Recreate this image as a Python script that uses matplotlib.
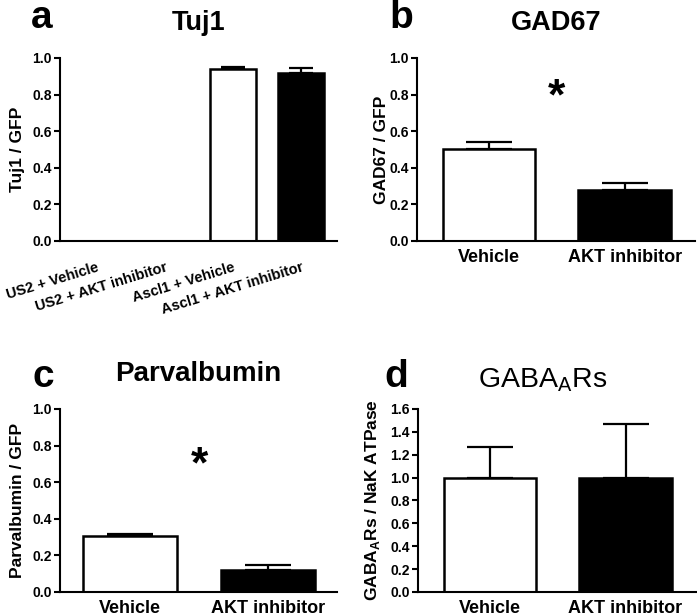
import matplotlib
matplotlib.use('Agg')
import matplotlib.pyplot as plt

plt.rcParams['font.family'] = ['Liberation Sans', 'DejaVu Sans']
plt.rcParams['mathtext.fontset'] = 'custom'
plt.rcParams['mathtext.rm'] = 'Liberation Sans'
plt.rcParams['mathtext.bf'] = 'Liberation Sans:bold'

# Data
tuj1_labels = ['US2 + Vehicle', 'US2 + AKT inhibitor', 'Ascl1 + Vehicle', 'Ascl1 + AKT inhibitor']
tuj1_means = [0, 0, 0.94, 0.92]
tuj1_errs = [0, 0, 0.01, 0.025]

two_labels = ['Vehicle', 'AKT inhibitor']
gad67_means = [0.50, 0.28]
gad67_errs = [0.04, 0.035]
parv_means = [0.305, 0.12]
parv_errs = [0.01, 0.025]
gaba_means = [1.0, 1.0]
gaba_errs = [0.27, 0.47]

bar_colors = ['white', 'black']

fig = plt.figure(figsize=(6.97, 6.16), dpi=100)

ax_a = fig.add_axes([0.0861, 0.6088, 0.3974, 0.2971])
ax_b = fig.add_axes([0.5983, 0.6088, 0.3990, 0.2971])
ax_c = fig.add_axes([0.0861, 0.0390, 0.3974, 0.2971])
ax_d = fig.add_axes([0.5997, 0.0390, 0.3990, 0.2971])


def style_axes(ax):
    for s in ['top', 'right']:
        ax.spines[s].set_visible(False)
    for s in ['left', 'bottom']:
        ax.spines[s].set_linewidth(1.5)
    ax.tick_params(axis='y', width=1.5, length=4, labelsize=10, pad=2)
    ax.tick_params(axis='x', length=0, pad=6)
    for lab in ax.get_yticklabels():
        lab.set_fontweight('bold')


def draw_bars(ax, means, errs, colors, width, capsize):
    x = list(range(len(means)))
    for i in x:
        if means[i] == 0:
            continue
        ax.bar(i, means[i], width=width, color=colors[i], edgecolor='black',
               linewidth=1.8, zorder=2)
        ax.errorbar(i, means[i], yerr=[[0], [errs[i]]], fmt='none', ecolor='black',
                    elinewidth=1.6, capsize=capsize, capthick=1.6, zorder=1)
    return x


ticks_1 = [0, 0.2, 0.4, 0.6, 0.8, 1.0]
ticks_16 = [0, 0.2, 0.4, 0.6, 0.8, 1.0, 1.2, 1.4, 1.6]

# Panel a
xa = draw_bars(ax_a, tuj1_means, tuj1_errs, ['white', 'white', 'white', 'black'], 0.68, 8.3)
ax_a.set_xlim(-0.54, 3.53)
ax_a.set_ylim(0, 1.0)
ax_a.set_yticks(ticks_1)
ax_a.set_yticklabels([f'{t:.1f}' for t in ticks_1])
ax_a.set_xticks(xa)
ax_a.set_xticklabels(tuj1_labels, rotation=17, ha='right', va='top', rotation_mode='anchor',
                     fontsize=10.5, fontweight='bold')
ax_a.set_ylabel('Tuj1 / GFP', fontsize=12.5, fontweight='bold')
ax_a.yaxis.set_label_coords(-0.126, 0.5)
ax_a.set_title('Tuj1', fontsize=19.5, fontweight='bold', pad=20)
style_axes(ax_a)
ax_a.tick_params(axis='x', pad=14)

# Panel b
xb = draw_bars(ax_b, gad67_means, gad67_errs, bar_colors, 0.68, 16.5)
ax_b.set_xlim(-0.53, 1.52)
ax_b.set_ylim(0, 1.0)
ax_b.set_yticks(ticks_1)
ax_b.set_yticklabels([f'{t:.1f}' for t in ticks_1])
ax_b.set_xticks(xb)
ax_b.set_xticklabels(two_labels, fontsize=13, fontweight='bold')
ax_b.set_ylabel('GAD67 / GFP', fontsize=12.5, fontweight='bold')
ax_b.yaxis.set_label_coords(-0.100, 0.5)
ax_b.set_title('GAD67', fontsize=19.5, fontweight='bold', pad=20)
ax_b.text(0.5, 0.72, '*', ha='center', va='baseline', fontsize=32, fontweight='bold')
style_axes(ax_b)

# Panel c
xc = draw_bars(ax_c, parv_means, parv_errs, bar_colors, 0.68, 16.5)
ax_c.set_xlim(-0.51, 1.5)
ax_c.set_ylim(0, 1.0)
ax_c.set_yticks(ticks_1)
ax_c.set_yticklabels([f'{t:.1f}' for t in ticks_1])
ax_c.set_xticks(xc)
ax_c.set_xticklabels(two_labels, fontsize=13, fontweight='bold')
ax_c.set_ylabel('Parvalbumin / GFP', fontsize=12.5, fontweight='bold')
ax_c.yaxis.set_label_coords(-0.126, 0.5)
ax_c.set_title('Parvalbumin', fontsize=20, fontweight='bold', pad=20)
ax_c.text(0.5, 0.625, '*', ha='center', va='baseline', fontsize=32, fontweight='bold')
style_axes(ax_c)

# Panel d
xd = draw_bars(ax_d, gaba_means, gaba_errs, bar_colors, 0.68, 16.5)
ax_d.set_xlim(-0.53, 1.52)
ax_d.set_ylim(0, 1.6)
ax_d.set_yticks(ticks_16)
ax_d.set_yticklabels([f'{t:.1f}' for t in ticks_16])
ax_d.set_xticks(xd)
ax_d.set_xticklabels(two_labels, fontsize=13, fontweight='bold')
ax_d.set_ylabel(r'GABA$_\mathbf{A}$Rs / NaK ATPase', fontsize=12.5, fontweight='bold')
ax_d.yaxis.set_label_coords(-0.129, 0.5)
ax_d.set_title(r'GABA$_\mathregular{A}$Rs', fontsize=20.5, pad=16, x=0.45)
style_axes(ax_d)

# Panel letters
for letter, x, y in [('a', 0.045, 0.9545), ('b', 0.558, 0.9545),
                     ('c', 0.046, 0.372), ('d', 0.551, 0.372)]:
    fig.text(x, y, letter, fontsize=28, fontweight='bold', ha='left', va='baseline')

fig.savefig('out.png', dpi=100)
